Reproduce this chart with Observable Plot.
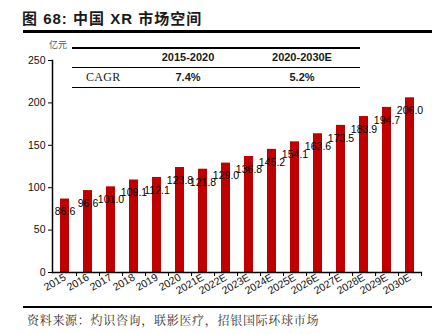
<!DOCTYPE html>
<html><head><meta charset="utf-8">
<script src="https://cdn.jsdelivr.net/npm/d3@7"></script>
<script src="https://cdn.jsdelivr.net/npm/@observablehq/plot@0.6"></script>
<style>
body{margin:0;background:#fff;}
#wrap{position:relative;width:442px;height:334px;overflow:hidden;font-family:"Liberation Sans",Arial,sans-serif;color:#1a1a1a;}
.abs{position:absolute;white-space:nowrap;}
#chart{position:absolute;left:0;top:0;}
.hl{position:absolute;background:#000;}
</style></head><body><div id="wrap">
<div id="chart"></div>
</div>
<script>
const title = "图 68: 中国 XR 市场空间";
const unit = "亿元";
const source = "资料来源：灼识咨询，联影医疗，招银国际环球市场";
const years = ["2015","2016","2017","2018","2019","2020","2021E","2022E","2023E","2024E","2025E","2026E","2027E","2028E","2029E","2030E"];
const values = [86.6,96.6,101.0,109.1,112.1,123.8,121.8,129.0,136.8,145.2,154.1,163.6,173.5,183.9,194.7,206.0];
const yTicks = [0,50,100,150,200,250];
const periods = ["2015-2020","2020-2030E"];
const rowLabel = "CAGR";
const cagr = ["7.4%","5.2%"];

const data = years.map((y,i)=>({year:y,value:values[i]}));
const W=442,H=300,mL=52,mR=20,mT=60,mB=28;
const step=(W-mL-mR)/years.length;

const chart = Plot.plot({
  width:W, height:H, marginTop:mT, marginBottom:mB, marginLeft:mL, marginRight:mR,
  style:{fontFamily:"'Liberation Sans', Arial, sans-serif", fontSize:"10.5px", color:"#111", background:"transparent", overflow:"visible"},
  x:{type:"band", domain:years, paddingInner:0.59, paddingOuter:0.295},
  y:{domain:[0,250]},
  marks:[
    Plot.barY(data,{x:"year",y:"value",fill:"#C00000"}),
    Plot.ruleY([0],{stroke:"#000",strokeWidth:1.5}),
    Plot.axisX({tickSize:4, tickFormat:()=>"", dx:step/2, label:null, stroke:"#000"}),
    Plot.axisX({tickSize:0, tickRotate:-30, tickPadding:4, label:null, fontSize:10.5}),
    Plot.axisY({ticks:yTicks, tickSize:4, tickPadding:3, label:null, fontSize:10.5, stroke:"#000"}),
    Plot.frame({anchor:"left", stroke:"#000", strokeWidth:1.5}),
    Plot.text(data,{x:"year",y:"value",text:d=>d.value.toFixed(1),dy:13,fontSize:10.5,fill:"#000"})
  ]
});
document.getElementById("chart").appendChild(chart);

const wrap=document.getElementById("wrap");
function add(html){const d=document.createElement("div");d.innerHTML=html;const el=d.firstChild;wrap.appendChild(el);return el;}
add(`<div class="abs" style="left:22px;top:11px;font-weight:bold;font-size:15px;line-height:15px;letter-spacing:1px;font-family:'Liberation Sans','Noto Sans CJK SC',sans-serif;">${title}</div>`);
add(`<div class="hl" style="left:23px;top:30px;width:409px;height:2.5px;"></div>`);
add(`<div class="abs" style="left:49px;top:40px;font-size:9px;line-height:10px;color:#555;font-family:'Noto Sans CJK SC',sans-serif;">${unit}</div>`);
// table
add(`<div class="hl" style="left:72px;top:47px;width:288px;height:1.5px;"></div>`);
add(`<div class="hl" style="left:72px;top:66.5px;width:288px;height:1.5px;"></div>`);
add(`<div class="hl" style="left:72px;top:86.5px;width:288px;height:1.5px;"></div>`);
const cx=[188,302];
periods.forEach((p,i)=>add(`<div class="abs" style="left:${cx[i]-60}px;width:120px;text-align:center;top:51px;font-weight:bold;font-size:11px;line-height:13px;">${p}</div>`));
add(`<div class="abs" style="left:86px;top:70px;font-size:12px;line-height:14px;font-family:'Liberation Serif','Times New Roman',serif;letter-spacing:0.3px;">${rowLabel}</div>`);
cagr.forEach((p,i)=>add(`<div class="abs" style="left:${cx[i]-60}px;width:120px;text-align:center;top:70.5px;font-weight:bold;font-size:11px;line-height:13px;">${p}</div>`));
// footer
add(`<div class="hl" style="left:23px;top:305.5px;width:409px;height:2px;"></div>`);
add(`<div class="abs" style="left:27px;top:312.5px;font-size:12px;line-height:14px;letter-spacing:0.7px;color:#333;font-family:'Noto Serif CJK SC','Noto Sans CJK SC',serif;">${source}</div>`);
</script>
</body></html>
